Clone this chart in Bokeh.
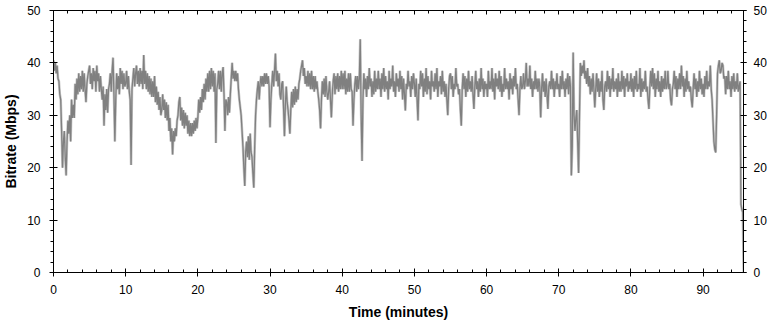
import numpy as np
from bokeh.plotting import figure
from bokeh.models import LinearAxis, Range1d, SingleIntervalTicker
from bokeh.embed import file_html
from bokeh.resources import INLINE

bitrate = [
    40.5, 38.5, 40, 38, 39.5, 37, 36.5, 34, 33, 27, 20, 25, 27, 22, 18.5, 25, 29, 26.5, 30, 25, 33, 29.5, 32, 29.5, 36, 33, 37, 34, 38, 34.5, 37.5, 35, 38.5, 34.5, 38, 35, 32.5, 36, 37.5, 38.5,
    39.5, 36, 38, 35, 39, 36.5, 38.5, 34.5, 39.5, 36.5, 38, 34.5, 37.5, 35, 33, 35.5, 28, 34, 31, 35, 30.5, 35, 36, 38, 34.5, 38.5, 41, 34, 25, 33, 38, 35, 37.5, 34, 39, 36, 38.5, 35, 38, 35.5,
    36, 38.5, 35, 37.5, 34.5, 33, 20.5, 35, 37, 39, 35.5, 38, 39.5, 36, 38.5, 35.5, 39, 36, 38.5, 35, 41.5, 36, 38.5, 35, 38, 34.5, 37.5, 34, 37, 33.5, 36.5, 33.5, 37.5, 32.5, 35.5, 32, 34.5, 31, 33.5, 30,
    31, 34, 31, 33, 29.5, 32.5, 29, 32, 27, 29.5, 25, 27.5, 22.5, 27, 25, 27.5, 26, 29, 30, 32.5, 33.5, 29, 31.5, 28, 31, 27.5, 30.5, 28, 30, 26.5, 29, 26, 28.5, 26, 28.5, 26.5, 29, 27, 29.5, 27.5,
    29.5, 33, 30.5, 33.5, 31, 35, 32.5, 36, 33, 37, 34.5, 38, 34.5, 38.5, 35, 39, 35.5, 38.5, 34.5, 38, 24.7, 35, 36, 38.5, 35, 38.5, 34.5, 38, 39.2, 34, 27, 33, 32.5, 30, 33.5, 30.5, 34, 37, 40, 37,
    38.5, 36.5, 38.5, 36.5, 38, 35, 33, 31.5, 30, 27, 24, 20, 16.5, 23, 25, 22, 26, 21.5, 26.5, 23, 22, 19, 16.2, 24, 30, 33, 35, 36.5, 33, 36, 37.5, 35.5, 37.5, 35.5, 38, 36, 38, 36, 37.5, 35.5,
    27.7, 33, 36, 38.5, 35.5, 38.5, 41.8, 36.5, 38.5, 35.5, 38, 34, 33, 36, 36.5, 31.5, 26, 32, 35.5, 32.5, 31, 29, 26.5, 31, 34.5, 31.5, 35, 32, 35.5, 32.5, 35, 33, 36, 37, 38.5, 39.5, 40.5, 37.5, 39, 36,
    37.5, 35.5, 38.5, 35.5, 38, 35, 38.5, 35, 37.5, 34.5, 37.5, 35, 36.5, 34.5, 33, 31, 27.5, 33, 36.5, 34, 37, 33.5, 37.5, 34.5, 33, 34.5, 36.5, 33, 29.6, 34, 36.5, 38, 34, 37.5, 35, 38, 34.5, 37.5, 35, 38.5,
    35, 38, 35, 38.5, 34, 37, 34.5, 38, 34.5, 38, 35, 34.5, 28, 33, 36, 37.5, 34.5, 37.5, 35, 37, 44.5, 30, 21.3, 33, 38, 35, 37, 33.5, 37.5, 35, 39, 35.5, 37, 33.5, 36.5, 34, 38.5, 34.5, 37, 35,
    38.5, 35, 37, 33.5, 38, 35, 39, 34.5, 37.5, 35, 36.5, 33, 38.5, 35, 37, 35.5, 39.5, 34.5, 36.5, 33.5, 38, 35.5, 37, 34.5, 38.5, 35, 37.5, 33, 37, 34, 30.9, 36, 35, 38.5, 35.5, 36.5, 33.5, 37.5, 35, 38,
    36, 33.5, 37, 33, 29, 36, 35, 38.5, 35.5, 38, 33.5, 37, 34.5, 39, 34, 37.5, 35, 36.5, 33, 38.5, 35.5, 36.5, 34.5, 38, 35, 39, 33.5, 36.5, 35.5, 37.5, 34, 38.5, 34.5, 36.5, 33.5, 36, 33, 30, 35, 37.5,
    38, 35, 37.5, 33.5, 36, 35, 39, 35.5, 36, 34, 35, 31, 28, 35, 38, 35, 37.5, 33.5, 37, 34.5, 38.5, 35, 36.5, 34.5, 37.5, 34, 31.2, 35.5, 38.5, 35, 36.5, 33.5, 37, 34.5, 39, 35, 37, 33.5, 36.5, 35,
    36, 33.5, 38.5, 35, 36.5, 35, 39, 34.5, 37, 33, 38, 35.5, 37, 35, 38.5, 34.5, 37.5, 33.5, 36, 34.5, 39, 35, 37, 35, 36.5, 33, 38, 35, 37, 34, 37.5, 35.5, 39, 35, 36, 33, 30, 35, 37.5, 35,
    35.5, 38, 35, 36.5, 40, 35.5, 37, 35.5, 39.5, 35, 37, 33.5, 36.5, 35, 38.5, 35, 37, 34.5, 37, 35.5, 29.6, 35, 38, 34.5, 36.5, 33.5, 37, 34, 31.2, 35.5, 36.5, 35, 38.5, 35, 37, 33.5, 36.5, 35, 38, 35,
    36, 33.5, 37.5, 35, 38.5, 35, 36.5, 33.5, 37, 35, 38, 34, 37.5, 35.5, 18.5, 24, 42, 30, 27, 29.5, 31, 25, 19, 30, 40, 37.5, 39.5, 38, 40.5, 37, 38.5, 36, 39, 35.5, 37.5, 34, 37, 34.5, 38, 35,
    31.5, 35, 38, 34.5, 37, 33.5, 36.5, 34.5, 38.5, 33, 31, 35.5, 36.5, 34.5, 38.5, 35, 37.5, 33.5, 37, 35, 39, 34.5, 36.5, 35, 37, 33.5, 38, 34.5, 36.5, 34.5, 38.5, 35, 37.5, 33.5, 37, 35.5, 38, 34.5, 36.5, 35,
    38, 34.5, 37, 33.5, 37.5, 35, 38.5, 34.5, 36, 35, 39, 33.5, 37, 34.5, 36.5, 35, 38.5, 34.5, 35.5, 33, 31.2, 35.5, 38.5, 35.5, 39, 35, 38, 33.5, 37, 35, 38.5, 34.5, 36.5, 33.5, 37.5, 34.5, 37, 35, 38.5, 35,
    35.5, 38.5, 35, 36, 33, 31.9, 35, 36, 38.5, 35, 37.5, 33.5, 37, 35, 38, 35, 39.5, 35.5, 37.5, 33.5, 37, 34.5, 38.5, 35, 36.5, 34.5, 35.5, 33, 31.5, 35, 38, 35, 37, 33.5, 36.5, 34.5, 38.5, 35, 37, 34,
    36, 33.5, 37.5, 35, 38.5, 35, 36.5, 35.5, 39.5, 35, 33, 29, 25, 23.5, 22.9, 30, 38, 39.5, 40.5, 38, 38.5, 40, 39.5, 37, 37.5, 34, 37.5, 35, 38.5, 35, 36.5, 33.5, 37.5, 35, 38, 34.5, 36.5, 35, 38, 34.5,
    35.5, 36.5, 13, 12, 11.5, 0,
]
sample_step_min = 0.125
minutes = np.arange(len(bitrate)) * sample_step_min

x_end = 95.6
y_end = 50
x_tick_interval = 10
y_tick_interval = 10

FONT = "Liberation Sans"

p = figure(width=775, height=322, output_backend="svg", toolbar_location=None,
           x_range=Range1d(0, x_end), y_range=Range1d(0, y_end),
           min_border_left=53, min_border_right=32, min_border_top=10, min_border_bottom=50,
           x_axis_label="Time (minutes)", y_axis_label="Bitrate (Mbps)")
p.background_fill_color = "white"
p.border_fill_color = "white"
p.outline_line_color = "black"
p.grid.visible = False

p.line(minutes, bitrate, line_color="#c8c8c8", line_width=2.6)
p.line(minutes, bitrate, line_color="#808080", line_width=1.3)

def style(ax, minor_in, minor_out, major_in, major_out, standoff):
    ax.axis_line_color = "black"
    ax.major_tick_line_color = "black"
    ax.minor_tick_line_color = "black"
    ax.major_tick_in = major_in
    ax.major_tick_out = major_out
    ax.minor_tick_in = minor_in
    ax.minor_tick_out = minor_out
    ax.major_label_text_font = FONT
    ax.major_label_text_font_size = "12px"
    ax.major_label_text_color = "black"
    ax.major_label_standoff = standoff
    ax.axis_label_text_font = FONT
    ax.axis_label_text_font_size = "14px"
    ax.axis_label_text_font_style = "bold"
    ax.axis_label_text_color = "black"

xa = p.xaxis[0]
xa.ticker = SingleIntervalTicker(interval=x_tick_interval, num_minor_ticks=5)
style(xa, 3, 0, 4, 4, 8)
xa.axis_label_standoff = 7

ya = p.yaxis[0]
ya.ticker = SingleIntervalTicker(interval=y_tick_interval, num_minor_ticks=5)
style(ya, 0, 3, 4, 4, 9)
ya.axis_label_standoff = 5

ra = LinearAxis(ticker=SingleIntervalTicker(interval=y_tick_interval, num_minor_ticks=5))
style(ra, 0, 3, 3, 3, 7)
p.add_layout(ra, "right")

ta = LinearAxis(ticker=SingleIntervalTicker(interval=x_tick_interval, num_minor_ticks=5))
style(ta, 3, 0, 4, 0, 0)
ta.major_label_text_font_size = "0px"
ta.major_label_text_color = None
p.add_layout(ta, "above")

open("out.html", "w").write(file_html(p, INLINE))
